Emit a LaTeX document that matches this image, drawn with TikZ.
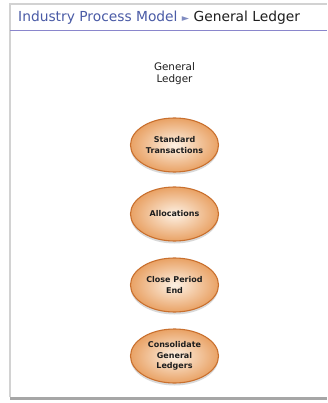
\documentclass[tikz,border=0pt]{standalone}
\usepackage{fontspec}
\setmainfont{DejaVu Sans}
\usetikzlibrary{shapes.geometric,shadows}
\definecolor{crumb}{HTML}{4A5BA6}
\definecolor{rule}{HTML}{8A86CC}
\definecolor{edgeor}{HTML}{C9702E}
\definecolor{outor}{HTML}{E9A265}
\definecolor{inor}{HTML}{FDF1E4}
\definecolor{txt}{HTML}{1E1E1E}
\tikzset{
  proc/.style={ellipse, draw=edgeor, line width=1.1pt, minimum width=88pt, minimum height=54pt,
    inner sep=0pt, shading=radial, inner color=inor, outer color=outor,
    drop shadow={shadow xshift=0pt, shadow yshift=-2.5pt, fill=black, opacity=0.15},
    font=\fontsize{8}{10.4}\selectfont\bfseries, text=txt, align=center},
}
\begin{document}
\begin{tikzpicture}[x=1pt,y=-1pt]
\useasboundingbox (0,0) rectangle (327,403);
\fill[white] (0,0) rectangle (327,403);
% frame
\fill[gray!70] (10,396.5) rectangle (327,400);
\fill[white] (10,4) rectangle (327,397);
\draw[gray!35, line width=1.2pt] (10,397) -- (10,4) -- (327,4);
\draw[rule, line width=1pt] (10,30.5) -- (327,30.5);
% breadcrumb
\node[anchor=base west, inner sep=0pt, font=\fontsize{13.8}{15}\selectfont] (crumb) at (18,22)
  {\textcolor{crumb}{Industry Process Model} \textcolor{crumb!70}{\fontsize{9.5}{10}\selectfont ►} \textcolor{txt}{General Ledger}};
% title
\node[font=\fontsize{10.4}{11.5}\selectfont, align=center, text=txt] (title) at (174.5,73.5) {General\\Ledger};
% processes
\node[proc] (p1) at (174.5,145) {Standard\\Transactions};
\node[proc] (p2) at (174.5,214) {Allocations};
\node[proc] (p3) at (174.5,285) {Close Period\\End};
\node[proc] (p4) at (174.5,356) {Consolidate\\General\\Ledgers};
\end{tikzpicture}
\end{document}
